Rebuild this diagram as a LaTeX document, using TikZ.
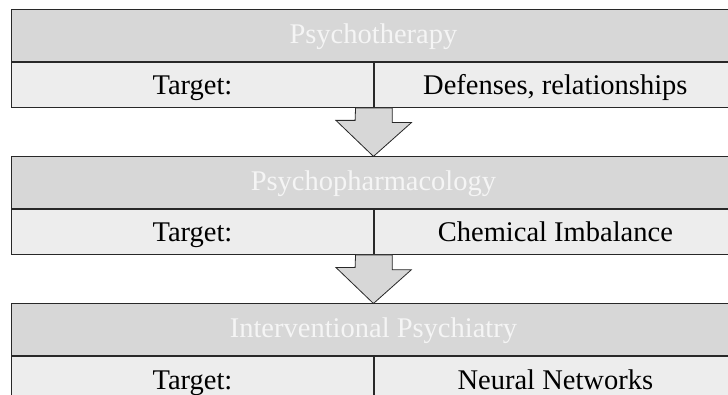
\documentclass[tikz,border=0pt]{standalone}
\usepackage{fontspec}
\setmainfont{Liberation Serif}
\usepackage{tikz}
\usetikzlibrary{calc}

\definecolor{headgray}{RGB}{215,215,215}
\definecolor{rowgray}{RGB}{237,237,237}
\definecolor{edgegray}{RGB}{40,40,40}
\definecolor{headtext}{RGB}{245,245,245}

\begin{document}
\begin{tikzpicture}[
            x=1pt,
            y=-1pt,
            font=\fontsize{28.5}{33}\selectfont,
            headbox/.style={draw=edgegray, line width=0.9pt, fill=headgray, text=headtext,
                minimum width=724pt, minimum height=51.5pt, inner sep=0pt,
                text height=19pt, text depth=3pt, anchor=north west},
            cellbox/.style={draw=edgegray, line width=0.9pt, fill=rowgray, text=black,
                minimum width=362pt, minimum height=45.3pt, inner sep=0pt,
                text height=23pt, text depth=3pt, anchor=north west},
            stagearrow/.style={draw=edgegray, line width=0.8pt, fill=headgray, line join=miter}
        ]

            % --- Page ---
            \useasboundingbox (0,0) rectangle (728,395);
            \clip (0,0) rectangle (728,395);

            % --- Definitions ---
            \def\stepY{147.1}   % one stage to the next
            \def\shaft{18.35}   % half width of the arrow shaft
            \def\head{37.5}     % half width of the arrow head
            \def\neck{14.7}     % shaft length
            \def\tip{36}        % head length

            % --- Stage Corners ---
            \coordinate (topA) at (11, 9.3);
            \coordinate (topB) at (11, 9.3+\stepY);
            \coordinate (topC) at (11, 9.3+2*\stepY);

            % --- 1. Psychotherapy ---
            \node[headbox] (hdA) at (topA) {Psychotherapy};
            \node[cellbox] (tgA) at (hdA.south west) {Target:};
            \node[cellbox] (valA) at (tgA.north east) {Defenses, relationships};

            % --- 2. Psychopharmacology ---
            \node[headbox] (hdB) at (topB) {Psychopharmacology};
            \node[cellbox] (tgB) at (hdB.south west) {Target:};
            \node[cellbox] (valB) at (tgB.north east) {Chemical Imbalance};

            % --- 3. Interventional Psychiatry ---
            \node[headbox] (hdC) at (topC) {Interventional Psychiatry};
            \node[cellbox] (tgC) at (hdC.south west) {Target:};
            \node[cellbox] (valC) at (tgC.north east) {Neural Networks};

            % --- 4. Block Arrows (stage to stage) ---
            \draw[stagearrow] ($(tgA.south east)+(-\shaft,0)$) -- ++(2*\shaft,0) -- ++(0,\neck)
                -- ++(\head-\shaft,0) -- (hdB.north) -- ++(-\head,-\tip) -- ++(\head-\shaft,0) -- cycle;
            \draw[stagearrow] ($(tgB.south east)+(-\shaft,0)$) -- ++(2*\shaft,0) -- ++(0,\neck)
                -- ++(\head-\shaft,0) -- (hdC.north) -- ++(-\head,-\tip) -- ++(\head-\shaft,0) -- cycle;

        \end{tikzpicture}
\end{document}
